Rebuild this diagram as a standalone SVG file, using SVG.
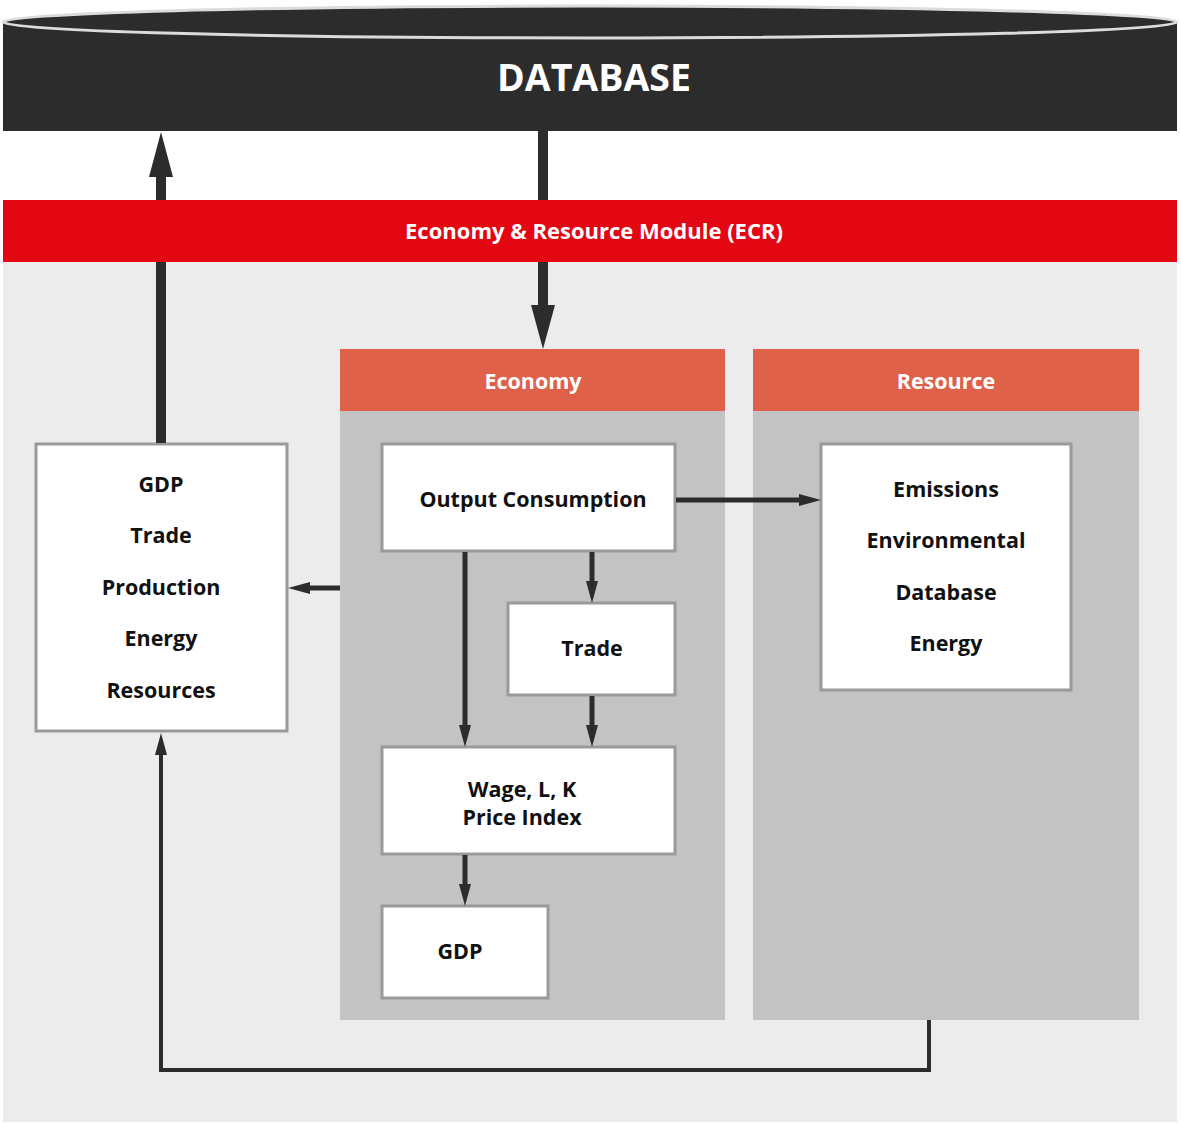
<svg xmlns="http://www.w3.org/2000/svg" width="1181" height="1125" viewBox="0 0 1181 1125">
<defs>
<style>
.t{font-family:"Open Sans","Noto Sans","Liberation Sans",sans-serif;font-weight:bold;text-anchor:middle}
.w{fill:#fff}
.k{fill:#111;font-size:21.5px}
.box{fill:#fff;stroke:#9a9a9a;stroke-width:3}
.panel{fill:#c4c3c3}
.hdr{fill:#e0614a}
.big{stroke:#2d2c2d;stroke-width:10;fill:none}
.thin{stroke:#2d2c2d;stroke-width:5;fill:none}
.head{fill:#2d2c2d}
</style>
</defs>
<rect x="0" y="0" width="1181" height="1125" fill="#fff"/>
<g id="background">
<rect x="3" y="262" width="1174" height="860" fill="#ececec"/>
</g>
<g id="database">
<rect x="3" y="22" width="1174" height="109" fill="#2d2c2d"/>
<ellipse cx="590" cy="22" rx="587" ry="16" fill="#2d2c2d" stroke="#dcdcdc" stroke-width="3"/>
<text class="t w" x="594" y="91" font-size="37.5">DATABASE</text>
</g>
<g id="ecr">
<rect x="3" y="200" width="1174" height="62" fill="#e30613"/>
<text class="t w" x="594" y="239" font-size="22">Economy &amp; Resource Module (ECR)</text>
</g>
<g id="economy">
<rect class="panel" x="340" y="349" width="385" height="671"/>
<rect class="hdr" x="340" y="349" width="385" height="62"/>
<text class="t w" x="533" y="389" font-size="21.5">Economy</text>
</g>
<g id="resource">
<rect class="panel" x="753" y="349" width="386" height="671"/>
<rect class="hdr" x="753" y="349" width="386" height="62"/>
<text class="t w" x="946" y="389" font-size="21.5">Resource</text>
</g>
<g id="summary">
<rect class="box" x="36" y="444" width="251" height="287"/>
<text class="t k" x="161" y="492">GDP</text>
<text class="t k" x="161" y="543">Trade</text>
<text class="t k" x="161" y="595">Production</text>
<text class="t k" x="161" y="646">Energy</text>
<text class="t k" x="161" y="698">Resources</text>
</g>
<g id="output-consumption">
<rect class="box" x="382" y="444" width="293" height="107"/>
<text class="t k" x="533" y="507">Output Consumption</text>
</g>
<g id="trade">
<rect class="box" x="508" y="603" width="167" height="92"/>
<text class="t k" x="592" y="656">Trade</text>
</g>
<g id="wage">
<rect class="box" x="382" y="747" width="293" height="107"/>
<text class="t k" x="522" y="797">Wage, L, K</text>
<text class="t k" x="522" y="825">Price Index</text>
</g>
<g id="gdp">
<rect class="box" x="382" y="906" width="166" height="92"/>
<text class="t k" x="460" y="959">GDP</text>
</g>
<g id="resource-box">
<rect class="box" x="821" y="444" width="250" height="246"/>
<text class="t k" x="946" y="497">Emissions</text>
<text class="t k" x="946" y="548">Environmental</text>
<text class="t k" x="946" y="600">Database</text>
<text class="t k" x="946" y="651">Energy</text>
</g>
<g id="connectors">
<line class="big" x1="161" y1="443" x2="161" y2="262"/>
<line class="big" x1="161" y1="200" x2="161" y2="174"/>
<polygon class="head" points="161,132 149,177 173,177"/>
<line class="big" x1="543" y1="131" x2="543" y2="200"/>
<line class="big" x1="543" y1="262" x2="543" y2="308"/>
<polygon class="head" points="543,349 531,305 555,305"/>
<line class="thin" x1="676" y1="500" x2="802" y2="500"/>
<polygon class="head" points="821,500 799,494 799,506"/>
<line class="thin" x1="340" y1="588" x2="306" y2="588"/>
<polygon class="head" points="288,588 310,582 310,594"/>
<line class="thin" x1="592" y1="552" x2="592" y2="584"/>
<polygon class="head" points="592,603 586,581 598,581"/>
<line class="thin" x1="465" y1="552" x2="465" y2="728"/>
<polygon class="head" points="465,747 459,725 471,725"/>
<line class="thin" x1="592" y1="696" x2="592" y2="728"/>
<polygon class="head" points="592,747 586,725 598,725"/>
<line class="thin" x1="465" y1="855" x2="465" y2="887"/>
<polygon class="head" points="465,906 459,884 471,884"/>
<polyline points="929,1020 929,1070 161,1070 161,752" stroke="#2d2c2d" stroke-width="4" fill="none"/>
<polygon class="head" points="161,733 155,755 167,755"/>
</g>
</svg>
